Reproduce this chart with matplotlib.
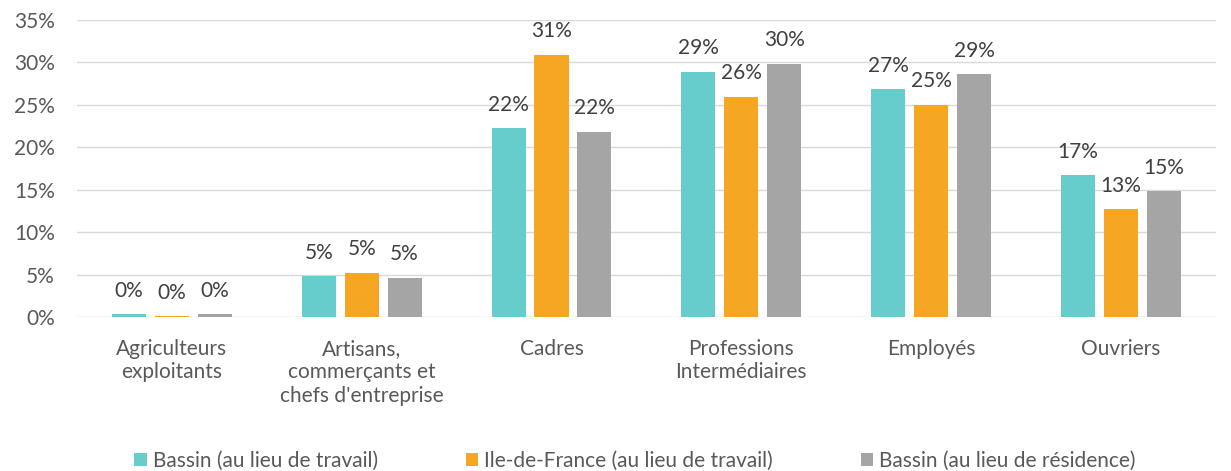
import matplotlib
matplotlib.use('Agg')
import matplotlib.pyplot as plt
import numpy as np
from matplotlib.ticker import FuncFormatter, MultipleLocator

categories = ["Agriculteurs\nexploitants", "Artisans,\ncommerçants et\nchefs d'entreprise", "Cadres",
              "Professions\nIntermédiaires", "Employés", "Ouvriers"]
series_names = ["Bassin (au lieu de travail)", "Ile-de-France (au lieu de travail)",
                "Bassin (au lieu de résidence)"]
bassin_travail = [0.3, 4.8, 22.2, 28.9, 26.8, 16.7]
idf_travail = [0.1, 5.2, 30.9, 25.9, 25.0, 12.7]
bassin_residence = [0.3, 4.6, 21.8, 29.8, 28.6, 14.8]
colors = ['#66cccc', '#f5a623', '#a5a5a5']

plt.rcParams['font.family'] = ['Lato', 'DejaVu Sans']
fig = plt.figure(figsize=(12.31, 4.71), dpi=100)
ax = fig.add_axes([0.0626, 0.327, 0.925, 0.631])

x = np.arange(len(categories))
width = 0.18
step = 0.226
text_col = '#404040'
for i, (vals, name) in enumerate(zip([bassin_travail, idf_travail, bassin_residence], series_names)):
    pos = x + (i - 1) * step
    ax.bar(pos, vals, width, color=colors[i], label=name, zorder=3)
    for p, v in zip(pos, vals):
        ax.text(p, v + 1.6, f"{v:.0f}%", ha='center', va='bottom', fontsize=15, color=text_col)

ax.set_ylim(0, 35)
ax.set_xlim(-0.5, len(categories) - 0.5)
ax.yaxis.set_major_locator(MultipleLocator(5))
ax.yaxis.set_major_formatter(FuncFormatter(lambda v, _: f"{v:.0f}%"))
ax.grid(axis='y', color='#d9d9d9', linewidth=1, zorder=0)
ax.set_axisbelow(True)
for s in ax.spines.values():
    s.set_visible(False)
ax.tick_params(axis='both', length=0, labelsize=15, labelcolor='#595959')
ax.tick_params(axis='y', pad=16)
ax.set_xticks(x)
ax.set_xticklabels(categories, va='top', linespacing=1.2)
ax.tick_params(axis='x', pad=16)

ax.legend(loc='lower center', bbox_to_anchor=(0.49, -0.58), ncol=3, frameon=False,
          fontsize=15, handlelength=0.6, handleheight=0.6, handletextpad=0.3, columnspacing=4.2,
          labelcolor='#595959')

fig.savefig('out.png', dpi=100)
